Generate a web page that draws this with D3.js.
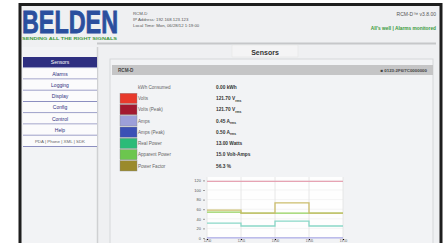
<html>
<head>
<meta charset="utf-8">
<title>RCM-D Sensors</title>
<style>
  body { margin: 0; background: #fff; }
  text { font-family: "Liberation Sans", Arial, sans-serif; }
</style>
</head>
<body>
<script src="https://d3js.org/d3.v7.min.js"></script>
<script>
var width = 448, height = 243;

// nav + sensor table
var navItems = ["Sensors", "Alarms", "Logging", "Display", "Config", "Control", "Help", "PDA | Phone | XML | SDK"];
var sensorNames = ["kWh Consumed", "Volts", "Volts (Peak)", "Amps", "Amps (Peak)", "Real Power", "Apparent Power", "Power Factor"];
var sensorValues = ["0.00 kWh", "121.70 V", "121.70 V", "0.45 A", "0.50 A", "13.00 Watts", "15.0 Volt-Amps", "56.3 %"];
var sensorSubs = ["", "rms", "rms", "rms", "rms", "", "", ""];
var sensorColors = [null, "#e8392b", "#a3192f", "#9d9fd9", "#3b50b5", "#2bbb78", "#6cc64e", "#9a8a2c"];

// chart
var timeLabels = ["12:50", "12:55", "13:00", "13:05", "13:10"];
var yTicks = [0, 20, 40, 60, 80, 100, 120];
var voltsSeries = [118, 118, 118, 118, 118];
var powerFactorSeries = [58, 52, 73, 52, 52];
var apparentSeries = [54, 52, 52, 52, 52];
var realSeries = [31, 25, 35, 25, 25];
var ampsSeries = [0.45, 0.45, 0.45, 0.45, 0.45];
var seriesColors = ["#e6a3b3", "#ccbd6c", "#93cf5b", "#8ad8c8", "#a9a9e6"];

var svg = d3.select("body").append("svg")
  .attr("width", width).attr("height", height);

// frame
svg.append("rect").attr("x", 0).attr("y", 0).attr("width", width).attr("height", height).attr("fill", "#fff");
svg.append("rect").attr("x", 20).attr("y", 4.5).attr("width", 421).attr("height", 245)
  .attr("fill", "#eff0f2").attr("stroke", "#1e1e1e").attr("stroke-width", 3);

// logo (squat font stretched upward)
svg.append("text").attr("transform", "translate(22,32.5) scale(1,1.4)")
  .attr("textLength", 96).attr("lengthAdjust", "spacingAndGlyphs")
  .attr("font-size", 23).attr("font-weight", "bold").attr("fill", "#2b4f9e")
  .attr("stroke", "#2b4f9e").attr("stroke-width", 0.6).text("BELDEN");
svg.append("text").attr("x", 22).attr("y", 39.5).attr("textLength", 95).attr("lengthAdjust", "spacingAndGlyphs")
  .attr("font-size", 4).attr("font-weight", "bold").attr("fill", "#3f9a3c").text("SENDING ALL THE RIGHT SIGNALS");

// header text
var hdr = [["RCM-D", 14.5], ["IP Address: 192.168.123.123", 21], ["Local Time: Mon, 06/28/12 1:19:00", 27]];
svg.selectAll(".hdr").data(hdr).enter().append("text")
  .attr("x", 133).attr("y", function(d) { return d[1]; })
  .attr("font-size", 4.3).attr("fill", "#555").text(function(d) { return d[0]; });
svg.append("text").attr("x", 436).attr("y", 16).attr("text-anchor", "end")
  .attr("font-size", 5).attr("fill", "#555").text("RCM-D\u2122 v3.8.00");
svg.append("text").attr("x", 436).attr("y", 30).attr("text-anchor", "end")
  .attr("font-size", 4.8).attr("font-weight", "bold").attr("fill", "#3a9a3a").text("All's well | Alarms monitored");

svg.append("line").attr("x1", 97).attr("x2", 436).attr("y1", 43.5).attr("y2", 43.5)
  .attr("stroke", "#c6c7c9").attr("stroke-width", 2);

// tab
svg.append("rect").attr("x", 232).attr("y", 45).attr("width", 66).attr("height", 12)
  .attr("fill", "#f4f4f5").attr("stroke", "#e2e2e2").attr("stroke-width", 0.5);
svg.append("text").attr("x", 265).attr("y", 54.5).attr("text-anchor", "middle")
  .attr("font-size", 7).attr("font-weight", "bold").attr("fill", "#333").text("Sensors");

// left nav
svg.append("rect").attr("x", 22).attr("y", 47).attr("width", 75).attr("height", 200).attr("fill", "#f2f3f5");
svg.append("line").attr("x1", 97.5).attr("x2", 97.5).attr("y1", 47).attr("y2", 243).attr("stroke", "#cfd0d2").attr("stroke-width", 1.5);
var navY = d3.scaleBand().domain(d3.range(navItems.length)).range([57, 147]);
var nav = svg.selectAll(".nav").data(navItems).enter().append("g")
  .attr("transform", function(d, i) { return "translate(23," + navY(i) + ")"; });
nav.append("rect").attr("width", 74).attr("height", navY.bandwidth() - 1)
  .attr("fill", function(d, i) { return i === 0 ? "#2e2f80" : "#fbfbfc"; });
nav.append("line").attr("x1", 0).attr("x2", 74)
  .attr("y1", navY.bandwidth() - 0.5).attr("y2", navY.bandwidth() - 0.5)
  .attr("stroke", "#8c8fc0").attr("stroke-width", 1);
nav.append("text").attr("x", 37).attr("y", navY.bandwidth() / 2 + 1.8).attr("text-anchor", "middle")
  .attr("font-size", function(d, i) { return i === navItems.length - 1 ? 4.4 : 5; })
  .attr("fill", function(d, i) { return i === 0 ? "#fff" : (i === navItems.length - 1 ? "#666" : "#2e2f80"); })
  .text(function(d) { return d; });

// content panel
svg.append("rect").attr("x", 110).attr("y", 59).attr("width", 323).attr("height", 190)
  .attr("fill", "#f2f3f5").attr("stroke", "#d6d7d9").attr("stroke-width", 1);
svg.append("rect").attr("x", 112).attr("y", 65).attr("width", 321).attr("height", 10).attr("fill", "#c5c5c6");
svg.append("text").attr("x", 118).attr("y", 71.8).attr("font-size", 4.6).attr("font-weight", "bold").attr("fill", "#444").text("RCM-D");
svg.append("text").attr("x", 427).attr("y", 71.8).attr("text-anchor", "end")
  .attr("font-size", 4.4).attr("font-weight", "bold").attr("fill", "#444").text("\u25A0 0123:2F6/7C0000000");

// sensor rows
var rowY = d3.scaleBand().domain(d3.range(sensorNames.length)).range([81.5, 171.5]);
var rows = svg.selectAll(".row").data(sensorNames).enter().append("g")
  .attr("transform", function(d, i) { return "translate(0," + rowY(i) + ")"; });
rows.filter(function(d, i) { return sensorColors[i]; }).append("rect")
  .attr("x", 120).attr("y", 0.5).attr("width", 17).attr("height", rowY.bandwidth() - 1)
  .attr("fill", function(d) { return sensorColors[sensorNames.indexOf(d)]; })
  .attr("stroke", "#888").attr("stroke-width", 0.4);
rows.append("text").attr("x", 138).attr("y", rowY.bandwidth() / 2 + 1.8)
  .attr("font-size", 4.6).attr("fill", "#666").text(function(d) { return d; });
var vt = rows.append("text").attr("x", 216).attr("y", rowY.bandwidth() / 2 + 1.8)
  .attr("font-size", 4.8).attr("font-weight", "bold").attr("fill", "#333");
vt.append("tspan").text(function(d, i) { return sensorValues[i]; });
vt.append("tspan").attr("dy", 1.5).attr("font-size", 3.4).text(function(d, i) { return sensorSubs[i]; });

// chart
var x = d3.scaleLinear().domain([0, timeLabels.length - 1]).range([207, 343]);
var y = d3.scaleLinear().domain([0, 125]).range([238, 178]);
svg.append("rect").attr("x", 207).attr("y", 177).attr("width", 136).attr("height", 62).attr("fill", "#fefefe");
svg.selectAll(".hg").data(yTicks).enter().append("line")
  .attr("x1", 207).attr("x2", 343).attr("y1", function(d) { return y(d); }).attr("y2", function(d) { return y(d); })
  .attr("stroke", "#ececec").attr("stroke-width", 0.6);
svg.selectAll(".vg").data(timeLabels).enter().append("line")
  .attr("x1", function(d, i) { return x(i); }).attr("x2", function(d, i) { return x(i); })
  .attr("y1", 177).attr("y2", 239.5).attr("stroke", "#e2e2e2").attr("stroke-width", 0.8);

var yAxis = svg.append("g").attr("transform", "translate(205,0)")
  .call(d3.axisLeft(y).tickValues(yTicks).tickSize(2).tickPadding(2));
yAxis.select(".domain").remove();
yAxis.selectAll("text").attr("font-size", 4).attr("fill", "#555").attr("font-family", "Liberation Sans, Arial");
yAxis.selectAll("line").attr("stroke", "#999");

var xAxis = svg.append("g").attr("transform", "translate(0,239)")
  .call(d3.axisBottom(x).tickValues(d3.range(timeLabels.length)).tickFormat(function(i) { return timeLabels[i]; }).tickSize(1).tickPadding(0));
xAxis.select(".domain").remove();
xAxis.selectAll("text").attr("font-size", 3).attr("dy", "0.7em").attr("fill", "#555").attr("font-family", "Liberation Sans, Arial");

var line = d3.line().x(function(d, i) { return x(i); }).y(function(d) { return y(d); }).curve(d3.curveStepAfter);
var allSeries = [voltsSeries, realSeries, apparentSeries, powerFactorSeries, ampsSeries];
var allColors = [seriesColors[0], seriesColors[3], seriesColors[2], seriesColors[1], seriesColors[4]];
svg.selectAll(".series").data(allSeries).enter().append("path")
  .attr("d", line).attr("fill", "none")
  .attr("stroke", function(d, i) { return allColors[i]; }).attr("stroke-width", 1.3);
</script>
</body>
</html>
